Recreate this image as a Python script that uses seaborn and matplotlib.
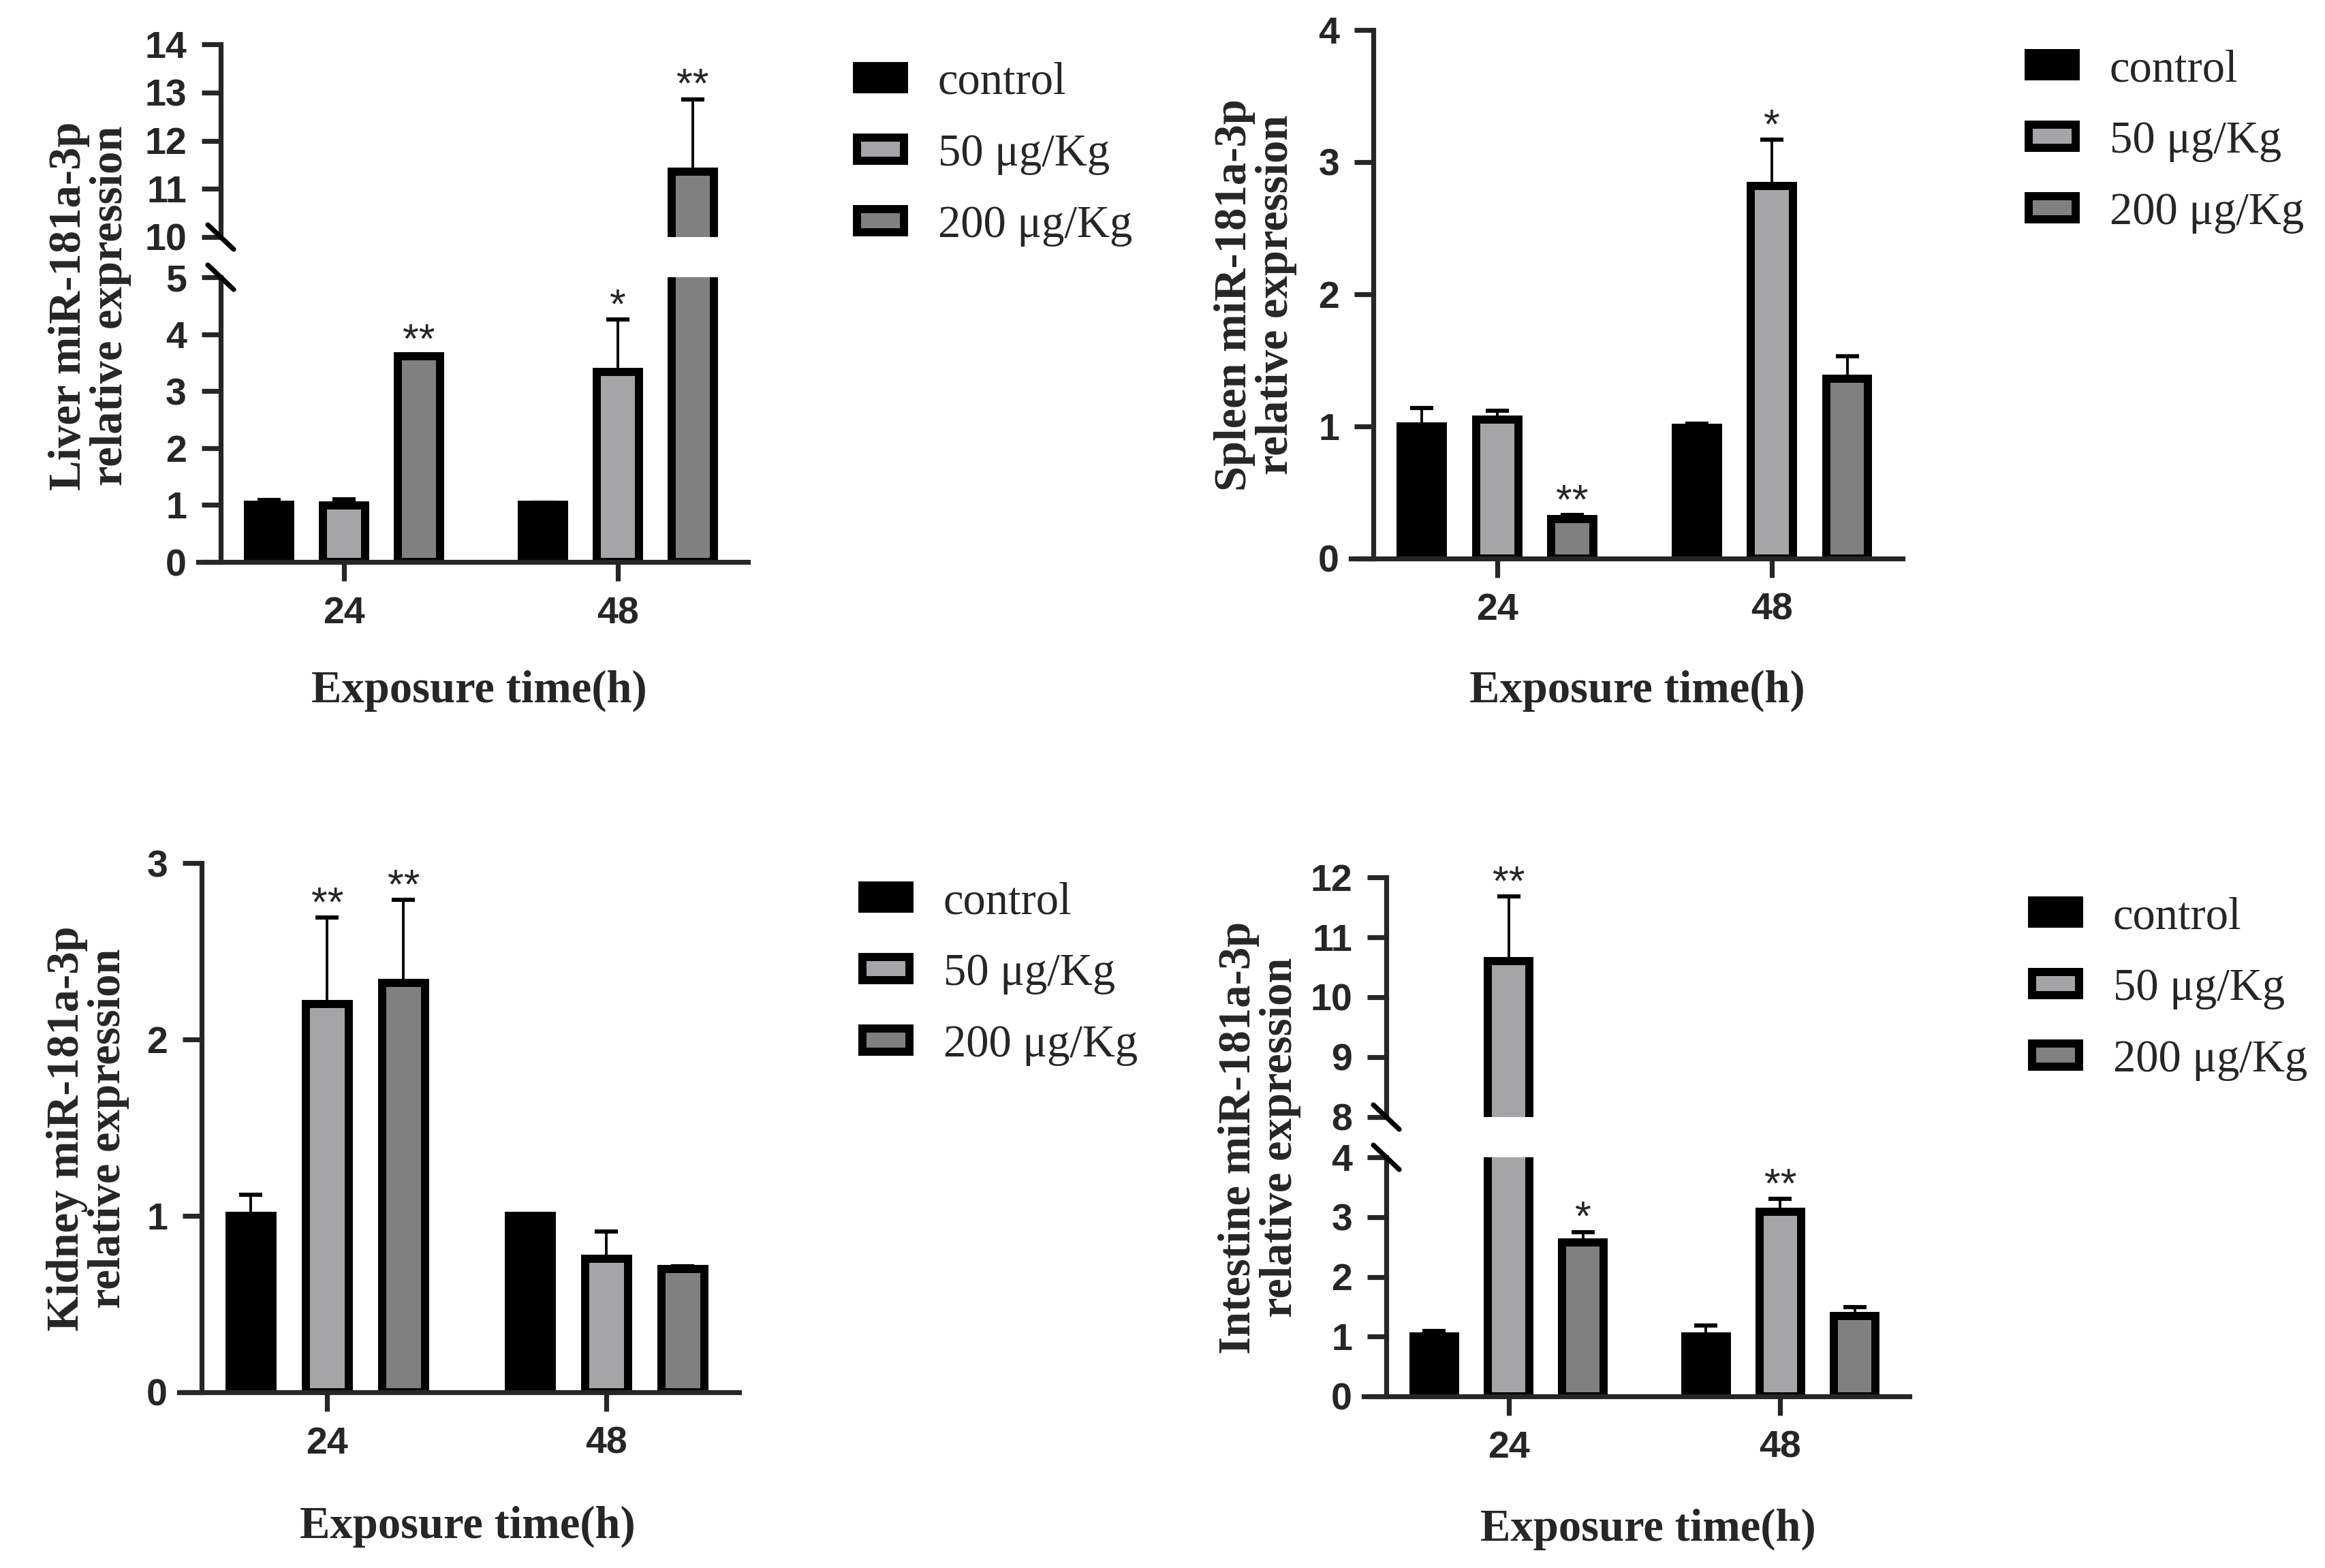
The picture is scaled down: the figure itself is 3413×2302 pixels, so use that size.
import matplotlib
matplotlib.use('Agg')
import matplotlib.pyplot as plt
from matplotlib.container import BarContainer
import numpy as np
import pandas as pd
import seaborn as sns

W, H, DPI = 3413, 2302, 200

# ---- data ----
DOSES = ['control', '50 μg/Kg', '200 μg/Kg']
TIMES = ['24', '48']
PALETTE = {'control': '#000000', '50 μg/Kg': '#a5a4a9', '200 μg/Kg': '#808080'}

# order: 24h (control, 50, 200), 48h (control, 50, 200)
liver_mean = [1.00, 0.99, 3.61, 1.00, 3.34, 11.36]
liver_top = [1.09, 1.10, 3.65, 1.04, 4.26, 12.86]
liver_stars = ['', '', '**', '', '*', '**']

spleen_mean = [1.00, 1.05, 0.30, 0.99, 2.82, 1.36]
spleen_top = [1.14, 1.12, 0.33, 1.02, 3.17, 1.53]
spleen_stars = ['', '', '**', '', '*', '']

kidney_mean = [1.00, 2.20, 2.32, 1.00, 0.755, 0.70]
kidney_top = [1.12, 2.69, 2.79, 1.005, 0.91, 0.715]
kidney_stars = ['', '**', '**', '', '', '']

intestine_mean = [1.00, 10.60, 2.57, 1.00, 3.09, 1.35]
intestine_top = [1.09, 11.68, 2.75, 1.18, 3.30, 1.49]
intestine_stars = ['', '**', '*', '', '**', '']

SANS = ['Liberation Sans', 'DejaVu Sans']
SERIF = ['Liberation Serif', 'DejaVu Serif']
LW = 2.6      # spine / tick width
EXT = 33      # x axis runs this many px left of the y axis

sns.set_style('ticks')
plt.rcParams['font.family'] = SANS


def rect(l, t, r, b):
    return [l / W, 1 - b / H, (r - l) / W, (b - t) / H]


def style_axis(ax, ylim, yticks, bottom=True):
    # x range -0.45..1.475 starts at the y axis; pad left so the x axis
    # sticks out past it like in the original
    width_px = ax.get_position().width * W
    span = 1.925 / (1 - EXT / width_px)
    ax.set_xlim(1.475 - span, 1.475)
    ax.spines['left'].set_position(('data', -0.45))
    ax.set_ylim(*ylim)
    ax.set_yticks(yticks)
    ax.set_xlabel('')
    ax.set_ylabel('')
    for s in ['top', 'right']:
        ax.spines[s].set_visible(False)
    ax.spines['left'].set_linewidth(LW)
    ax.spines['bottom'].set_linewidth(LW)
    ax.tick_params(axis='y', direction='out', length=10, width=LW, pad=8,
                   labelsize=20)
    ax.tick_params(axis='x', direction='out', length=10, width=LW, pad=8,
                   labelsize=20)
    for lab in ax.get_yticklabels() + ax.get_xticklabels():
        lab.set_fontweight('bold')
    if not bottom:
        ax.spines['bottom'].set_visible(False)
        ax.tick_params(axis='x', bottom=False, labelbottom=False)


def draw_bars(ax, mean, top, stars):
    df = pd.DataFrame({'time': np.repeat(TIMES, 3), 'dose': DOSES * 2,
                       'value': mean})
    sns.barplot(data=df, x='time', y='value', hue='dose', hue_order=DOSES,
                order=TIMES, palette=PALETTE, width=0.82, gap=0.44,
                edgecolor='black', linewidth=4.3, errorbar=None,
                legend=False, ax=ax)
    y0, y1 = ax.get_ylim()
    bars = [c for c in ax.containers if isinstance(c, BarContainer)]
    for i, cont in enumerate(bars):
        for t, bar in enumerate(cont):
            k = t * 3 + i
            x = bar.get_x() + bar.get_width() / 2
            ax.errorbar(x, mean[k], yerr=[[0], [top[k] - mean[k]]], fmt='none',
                        ecolor='black', elinewidth=1.4, capsize=6,
                        capthick=2.2, zorder=0.5)
            if stars[k] and y0 <= top[k] <= y1:
                ax.annotate(stars[k], (x, top[k]), xytext=(0, 1),
                            textcoords='offset points', ha='center',
                            va='baseline', fontsize=22, family=SANS)
    return bars


def break_marks(ax, where):
    bb = ax.get_position()
    x0 = (-0.45 - ax.get_xlim()[0]) / np.ptp(ax.get_xlim())
    dx = 19 / (bb.width * W)
    dy = 18 / (bb.height * H)
    yc = 1 if where == 'top' else 0
    ax.plot([x0 - dx, x0 + dx], [yc + dy, yc - dy], transform=ax.transAxes,
            color='black', lw=LW, clip_on=False, zorder=5)


def add_legend(ax, bars, left, row1):
    ax.legend(bars, DOSES, loc='upper left',
              bbox_to_anchor=((left + 6) / W, 1 - (row1 - 27) / H),
              bbox_transform=fig.transFigure, frameon=False,
              prop={'family': SERIF, 'size': 24},
              handlelength=1.03, handleheight=0.42, handletextpad=0.75,
              labelspacing=0.66, borderpad=0, borderaxespad=0)


def labels(xc_ylab, yc_ylab, organ, xc_xlab, y_xlab):
    fig.text(xc_ylab / W, 1 - yc_ylab / H,
             f'{organ} miR-181a-3p\nrelative expression', rotation=90,
             ha='center', va='center', multialignment='center',
             linespacing=1.0, fontsize=24, fontweight='bold', family=SERIF)
    fig.text(xc_xlab / W, 1 - y_xlab / H, 'Exposure time(h)', ha='center',
             va='center', fontsize=24, fontweight='bold', family=SERIF)


fig = plt.figure(figsize=(W / DPI, H / DPI), dpi=DPI)

# Liver (broken axis)
ax_lu = fig.add_axes(rect(324 - EXT, 65, 1098, 348))
ax_ll = fig.add_axes(rect(324 - EXT, 407, 1098, 825))
for ax, lim, ticks, bot in [(ax_lu, (10, 14), [10, 11, 12, 13, 14], False),
                            (ax_ll, (0, 5), [0, 1, 2, 3, 4, 5], True)]:
    ax.set_ylim(*lim)
    bars = draw_bars(ax, liver_mean, liver_top, liver_stars)
    style_axis(ax, lim, ticks, bottom=bot)
break_marks(ax_lu, 'bottom')
break_marks(ax_ll, 'top')
add_legend(ax_ll, bars, 1252, 118)
labels(132, 449, 'Liver', 703, 1014)

# Spleen
ax_s = fig.add_axes(rect(2016 - EXT, 44, 2793, 820))
ax_s.set_ylim(0, 4)
bars = draw_bars(ax_s, spleen_mean, spleen_top, spleen_stars)
style_axis(ax_s, (0, 4), [0, 1, 2, 3, 4])
add_legend(ax_s, bars, 2972, 99)
labels(1843, 433, 'Spleen', 2403, 1014)

# Kidney
ax_k = fig.add_axes(rect(296 - EXT, 1267, 1085, 2044))
ax_k.set_ylim(0, 3)
bars = draw_bars(ax_k, kidney_mean, kidney_top, kidney_stars)
style_axis(ax_k, (0, 3), [0, 1, 2, 3])
add_legend(ax_k, bars, 1260, 1321)
labels(129, 1657, 'Kidney', 686, 2241)

# Intestine (broken axis)
ax_iu = fig.add_axes(rect(2035 - EXT, 1288, 2803, 1640))
ax_il = fig.add_axes(rect(2035 - EXT, 1699, 2803, 2050))
for ax, lim, ticks, bot in [(ax_iu, (8, 12), [8, 9, 10, 11, 12], False),
                            (ax_il, (0, 4), [0, 1, 2, 3, 4], True)]:
    ax.set_ylim(*lim)
    bars = draw_bars(ax, intestine_mean, intestine_top, intestine_stars)
    style_axis(ax, lim, ticks, bottom=bot)
break_marks(ax_iu, 'bottom')
break_marks(ax_il, 'top')
add_legend(ax_il, bars, 2977, 1343)
labels(1849, 1670, 'Intestine', 2419, 2245)

fig.savefig('out.png', dpi=DPI, facecolor='white')
